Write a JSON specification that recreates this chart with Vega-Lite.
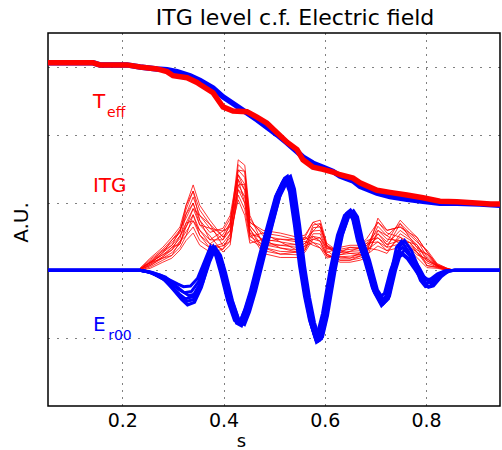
{
"$schema":"https://vega.github.io/schema/vega-lite/v6.json",
"width":452,"height":373,
"autosize":{"type":"none"},
"padding":{"left":48,"top":33,"right":2,"bottom":44},
"background":"white",
"config":{"view":{"stroke":"black","strokeWidth":1.5},"font":"DejaVu Sans"},
"title":{"text":"ITG level c.f. Electric field","anchor":"middle","dx":21,"offset":3,"fontSize":22,"font":"DejaVu Sans","fontWeight":"normal","color":"black"},
"datasets":{
"itg":[
{"g":"a","s":0.235,"v":0.03},{"g":"a","s":0.255,"v":0.18},{"g":"a","s":0.28,"v":0.34},{"g":"a","s":0.298,"v":0.49},{"g":"a","s":0.314,"v":0.64},{"g":"a","s":0.326,"v":0.96},{"g":"a","s":0.34,"v":1.26},{"g":"a","s":0.353,"v":0.96},{"g":"a","s":0.373,"v":0.74},{"g":"a","s":0.399,"v":0.49},{"g":"a","s":0.413,"v":0.65},{"g":"a","s":0.429,"v":1.63},{"g":"a","s":0.442,"v":1.55},{"g":"a","s":0.452,"v":0.81},{"g":"a","s":0.478,"v":0.38},{"g":"a","s":0.512,"v":0.33},{"g":"a","s":0.545,"v":0.30},{"g":"a","s":0.561,"v":0.36},{"g":"a","s":0.577,"v":0.67},{"g":"a","s":0.591,"v":0.69},{"g":"a","s":0.604,"v":0.37},{"g":"a","s":0.63,"v":0.18},{"g":"a","s":0.65,"v":0.18},{"g":"a","s":0.67,"v":0.21},{"g":"a","s":0.683,"v":0.26},{"g":"a","s":0.705,"v":0.77},{"g":"a","s":0.723,"v":0.59},{"g":"a","s":0.749,"v":0.64},{"g":"a","s":0.768,"v":0.52},{"g":"a","s":0.782,"v":0.42},{"g":"a","s":0.802,"v":0.30},{"g":"a","s":0.822,"v":0.10},{"g":"a","s":0.842,"v":0.03},{"g":"a","s":0.857,"v":0},
{"g":"b","s":0.235,"v":0.03},{"g":"b","s":0.255,"v":0.16},{"g":"b","s":0.28,"v":0.31},{"g":"b","s":0.298,"v":0.45},{"g":"b","s":0.314,"v":0.60},{"g":"b","s":0.326,"v":0.77},{"g":"b","s":0.34,"v":0.99},{"g":"b","s":0.353,"v":0.74},{"g":"b","s":0.373,"v":0.56},{"g":"b","s":0.399,"v":0.62},{"g":"b","s":0.413,"v":0.81},{"g":"b","s":0.429,"v":1.48},{"g":"b","s":0.442,"v":1.37},{"g":"b","s":0.452,"v":0.71},{"g":"b","s":0.478,"v":0.59},{"g":"b","s":0.512,"v":0.55},{"g":"b","s":0.545,"v":0.49},{"g":"b","s":0.561,"v":0.52},{"g":"b","s":0.577,"v":0.71},{"g":"b","s":0.591,"v":0.74},{"g":"b","s":0.604,"v":0.40},{"g":"b","s":0.63,"v":0.26},{"g":"b","s":0.65,"v":0.28},{"g":"b","s":0.67,"v":0.29},{"g":"b","s":0.683,"v":0.37},{"g":"b","s":0.705,"v":0.54},{"g":"b","s":0.723,"v":0.42},{"g":"b","s":0.749,"v":0.74},{"g":"b","s":0.768,"v":0.59},{"g":"b","s":0.782,"v":0.49},{"g":"b","s":0.802,"v":0.27},{"g":"b","s":0.822,"v":0.09},{"g":"b","s":0.842,"v":0.03},{"g":"b","s":0.857,"v":0},
{"g":"c","s":0.235,"v":0.02},{"g":"c","s":0.255,"v":0.14},{"g":"c","s":0.28,"v":0.29},{"g":"c","s":0.298,"v":0.41},{"g":"c","s":0.314,"v":0.56},{"g":"c","s":0.326,"v":0.90},{"g":"c","s":0.34,"v":1.17},{"g":"c","s":0.353,"v":0.89},{"g":"c","s":0.373,"v":0.68},{"g":"c","s":0.399,"v":0.36},{"g":"c","s":0.413,"v":0.48},{"g":"c","s":0.429,"v":1.56},{"g":"c","s":0.442,"v":1.46},{"g":"c","s":0.452,"v":0.76},{"g":"c","s":0.478,"v":0.51},{"g":"c","s":0.512,"v":0.46},{"g":"c","s":0.545,"v":0.42},{"g":"c","s":0.561,"v":0.46},{"g":"c","s":0.577,"v":0.50},{"g":"c","s":0.591,"v":0.48},{"g":"c","s":0.604,"v":0.26},{"g":"c","s":0.63,"v":0.34},{"g":"c","s":0.65,"v":0.37},{"g":"c","s":0.67,"v":0.37},{"g":"c","s":0.683,"v":0.47},{"g":"c","s":0.705,"v":0.71},{"g":"c","s":0.723,"v":0.55},{"g":"c","s":0.749,"v":0.49},{"g":"c","s":0.768,"v":0.41},{"g":"c","s":0.782,"v":0.30},{"g":"c","s":0.802,"v":0.24},{"g":"c","s":0.822,"v":0.08},{"g":"c","s":0.842,"v":0.02},{"g":"c","s":0.857,"v":0},
{"g":"d","s":0.235,"v":0.02},{"g":"d","s":0.255,"v":0.12},{"g":"d","s":0.28,"v":0.26},{"g":"d","s":0.298,"v":0.37},{"g":"d","s":0.314,"v":0.51},{"g":"d","s":0.326,"v":0.64},{"g":"d","s":0.34,"v":0.82},{"g":"d","s":0.353,"v":0.59},{"g":"d","s":0.373,"v":0.45},{"g":"d","s":0.399,"v":0.58},{"g":"d","s":0.413,"v":0.76},{"g":"d","s":0.429,"v":1.34},{"g":"d","s":0.442,"v":1.18},{"g":"d","s":0.452,"v":0.61},{"g":"d","s":0.478,"v":0.29},{"g":"d","s":0.512,"v":0.24},{"g":"d","s":0.545,"v":0.23},{"g":"d","s":0.561,"v":0.30},{"g":"d","s":0.577,"v":0.63},{"g":"d","s":0.591,"v":0.64},{"g":"d","s":0.604,"v":0.35},{"g":"d","s":0.63,"v":0.29},{"g":"d","s":0.65,"v":0.31},{"g":"d","s":0.67,"v":0.32},{"g":"d","s":0.683,"v":0.40},{"g":"d","s":0.705,"v":0.42},{"g":"d","s":0.723,"v":0.34},{"g":"d","s":0.749,"v":0.69},{"g":"d","s":0.768,"v":0.55},{"g":"d","s":0.782,"v":0.45},{"g":"d","s":0.802,"v":0.20},{"g":"d","s":0.822,"v":0.07},{"g":"d","s":0.842,"v":0.02},{"g":"d","s":0.857,"v":0},
{"g":"e","s":0.235,"v":0.02},{"g":"e","s":0.255,"v":0.11},{"g":"e","s":0.28,"v":0.23},{"g":"e","s":0.298,"v":0.34},{"g":"e","s":0.314,"v":0.47},{"g":"e","s":0.326,"v":0.83},{"g":"e","s":0.34,"v":1.08},{"g":"e","s":0.353,"v":0.81},{"g":"e","s":0.373,"v":0.62},{"g":"e","s":0.399,"v":0.45},{"g":"e","s":0.413,"v":0.59},{"g":"e","s":0.429,"v":1.19},{"g":"e","s":0.442,"v":0.99},{"g":"e","s":0.452,"v":0.50},{"g":"e","s":0.478,"v":0.55},{"g":"e","s":0.512,"v":0.51},{"g":"e","s":0.545,"v":0.45},{"g":"e","s":0.561,"v":0.49},{"g":"e","s":0.577,"v":0.41},{"g":"e","s":0.591,"v":0.38},{"g":"e","s":0.604,"v":0.21},{"g":"e","s":0.63,"v":0.20},{"g":"e","s":0.65,"v":0.21},{"g":"e","s":0.67,"v":0.23},{"g":"e","s":0.683,"v":0.30},{"g":"e","s":0.705,"v":0.65},{"g":"e","s":0.723,"v":0.51},{"g":"e","s":0.749,"v":0.39},{"g":"e","s":0.768,"v":0.34},{"g":"e","s":0.782,"v":0.23},{"g":"e","s":0.802,"v":0.17},{"g":"e","s":0.822,"v":0.07},{"g":"e","s":0.842,"v":0.02},{"g":"e","s":0.857,"v":0},
{"g":"f","s":0.235,"v":0.01},{"g":"f","s":0.255,"v":0.09},{"g":"f","s":0.28,"v":0.20},{"g":"f","s":0.298,"v":0.30},{"g":"f","s":0.314,"v":0.43},{"g":"f","s":0.326,"v":0.57},{"g":"f","s":0.34,"v":0.73},{"g":"f","s":0.353,"v":0.52},{"g":"f","s":0.373,"v":0.39},{"g":"f","s":0.399,"v":0.53},{"g":"f","s":0.413,"v":0.70},{"g":"f","s":0.429,"v":1.41},{"g":"f","s":0.442,"v":1.27},{"g":"f","s":0.452,"v":0.66},{"g":"f","s":0.478,"v":0.42},{"g":"f","s":0.512,"v":0.37},{"g":"f","s":0.545,"v":0.34},{"g":"f","s":0.561,"v":0.40},{"g":"f","s":0.577,"v":0.58},{"g":"f","s":0.591,"v":0.59},{"g":"f","s":0.604,"v":0.32},{"g":"f","s":0.63,"v":0.31},{"g":"f","s":0.65,"v":0.34},{"g":"f","s":0.67,"v":0.34},{"g":"f","s":0.683,"v":0.44},{"g":"f","s":0.705,"v":0.48},{"g":"f","s":0.723,"v":0.38},{"g":"f","s":0.749,"v":0.59},{"g":"f","s":0.768,"v":0.48},{"g":"f","s":0.782,"v":0.38},{"g":"f","s":0.802,"v":0.14},{"g":"f","s":0.822,"v":0.06},{"g":"f","s":0.842,"v":0.01},{"g":"f","s":0.857,"v":0},
{"g":"g","s":0.235,"v":0.01},{"g":"g","s":0.255,"v":0.07},{"g":"g","s":0.28,"v":0.18},{"g":"g","s":0.298,"v":0.26},{"g":"g","s":0.314,"v":0.39},{"g":"g","s":0.326,"v":0.70},{"g":"g","s":0.34,"v":0.91},{"g":"g","s":0.353,"v":0.67},{"g":"g","s":0.373,"v":0.51},{"g":"g","s":0.399,"v":0.27},{"g":"g","s":0.413,"v":0.37},{"g":"g","s":0.429,"v":1.26},{"g":"g","s":0.442,"v":1.09},{"g":"g","s":0.452,"v":0.55},{"g":"g","s":0.478,"v":0.25},{"g":"g","s":0.512,"v":0.19},{"g":"g","s":0.545,"v":0.19},{"g":"g","s":0.561,"v":0.27},{"g":"g","s":0.577,"v":0.46},{"g":"g","s":0.591,"v":0.43},{"g":"g","s":0.604,"v":0.24},{"g":"g","s":0.63,"v":0.12},{"g":"g","s":0.65,"v":0.12},{"g":"g","s":0.67,"v":0.15},{"g":"g","s":0.683,"v":0.19},{"g":"g","s":0.705,"v":0.59},{"g":"g","s":0.723,"v":0.46},{"g":"g","s":0.749,"v":0.44},{"g":"g","s":0.768,"v":0.37},{"g":"g","s":0.782,"v":0.27},{"g":"g","s":0.802,"v":0.11},{"g":"g","s":0.822,"v":0.05},{"g":"g","s":0.842,"v":0.01},{"g":"g","s":0.857,"v":0},
{"g":"h","s":0.235,"v":0},{"g":"h","s":0.255,"v":0.05},{"g":"h","s":0.28,"v":0.15},{"g":"h","s":0.298,"v":0.22},{"g":"h","s":0.314,"v":0.34},{"g":"h","s":0.326,"v":0.51},{"g":"h","s":0.34,"v":0.64},{"g":"h","s":0.353,"v":0.44},{"g":"h","s":0.373,"v":0.33},{"g":"h","s":0.399,"v":0.40},{"g":"h","s":0.413,"v":0.54},{"g":"h","s":0.429,"v":1.04},{"g":"h","s":0.442,"v":0.81},{"g":"h","s":0.452,"v":0.40},{"g":"h","s":0.478,"v":0.46},{"g":"h","s":0.512,"v":0.42},{"g":"h","s":0.545,"v":0.38},{"g":"h","s":0.561,"v":0.43},{"g":"h","s":0.577,"v":0.37},{"g":"h","s":0.591,"v":0.33},{"g":"h","s":0.604,"v":0.18},{"g":"h","s":0.63,"v":0.23},{"g":"h","s":0.65,"v":0.25},{"g":"h","s":0.67,"v":0.26},{"g":"h","s":0.683,"v":0.33},{"g":"h","s":0.705,"v":0.30},{"g":"h","s":0.723,"v":0.25},{"g":"h","s":0.749,"v":0.54},{"g":"h","s":0.768,"v":0.45},{"g":"h","s":0.782,"v":0.34},{"g":"h","s":0.802,"v":0.07},{"g":"h","s":0.822,"v":0.04},{"g":"h","s":0.842,"v":0},{"g":"h","s":0.857,"v":0},
{"g":"i","s":0.235,"v":0},{"g":"i","s":0.255,"v":0.03},{"g":"i","s":0.28,"v":0.12},{"g":"i","s":0.298,"v":0.18},{"g":"i","s":0.314,"v":0.30},{"g":"i","s":0.326,"v":0.44},{"g":"i","s":0.34,"v":0.55},{"g":"i","s":0.353,"v":0.37},{"g":"i","s":0.373,"v":0.27},{"g":"i","s":0.399,"v":0.31},{"g":"i","s":0.413,"v":0.43},{"g":"i","s":0.429,"v":1.11},{"g":"i","s":0.442,"v":0.90},{"g":"i","s":0.452,"v":0.45},{"g":"i","s":0.478,"v":0.34},{"g":"i","s":0.512,"v":0.28},{"g":"i","s":0.545,"v":0.27},{"g":"i","s":0.561,"v":0.33},{"g":"i","s":0.577,"v":0.54},{"g":"i","s":0.591,"v":0.54},{"g":"i","s":0.604,"v":0.29},{"g":"i","s":0.63,"v":0.15},{"g":"i","s":0.65,"v":0.15},{"g":"i","s":0.67,"v":0.18},{"g":"i","s":0.683,"v":0.23},{"g":"i","s":0.705,"v":0.36},{"g":"i","s":0.723,"v":0.29},{"g":"i","s":0.749,"v":0.34},{"g":"i","s":0.768,"v":0.30},{"g":"i","s":0.782,"v":0.19},{"g":"i","s":0.802,"v":0.04},{"g":"i","s":0.822,"v":0.03},{"g":"i","s":0.842,"v":0},{"g":"i","s":0.857,"v":0},
{"g":"j","s":0.235,"v":0.02},{"g":"j","s":0.255,"v":0.12},{"g":"j","s":0.28,"v":0.29},{"g":"j","s":0.298,"v":0.37},{"g":"j","s":0.314,"v":0.60},{"g":"j","s":0.326,"v":0.83},{"g":"j","s":0.34,"v":0.99},{"g":"j","s":0.353,"v":0.67},{"g":"j","s":0.373,"v":0.62},{"g":"j","s":0.399,"v":0.58},{"g":"j","s":0.413,"v":0.65},{"g":"j","s":0.429,"v":1.48},{"g":"j","s":0.442,"v":1.46},{"g":"j","s":0.452,"v":0.66},{"g":"j","s":0.478,"v":0.42},{"g":"j","s":0.512,"v":0.46},{"g":"j","s":0.545,"v":0.45},{"g":"j","s":0.561,"v":0.46},{"g":"j","s":0.577,"v":0.58},{"g":"j","s":0.591,"v":0.69},{"g":"j","s":0.604,"v":0.35},{"g":"j","s":0.63,"v":0.23},{"g":"j","s":0.65,"v":0.28},{"g":"j","s":0.67,"v":0.34},{"g":"j","s":0.683,"v":0.40},{"g":"j","s":0.705,"v":0.59},{"g":"j","s":0.723,"v":0.51},{"g":"j","s":0.749,"v":0.69},{"g":"j","s":0.768,"v":0.48},{"g":"j","s":0.782,"v":0.34},{"g":"j","s":0.802,"v":0.24},{"g":"j","s":0.822,"v":0.07},{"g":"j","s":0.842,"v":0.02},{"g":"j","s":0.857,"v":0},
{"g":"k","s":0.235,"v":0.01},{"g":"k","s":0.255,"v":0.07},{"g":"k","s":0.28,"v":0.20},{"g":"k","s":0.298,"v":0.34},{"g":"k","s":0.314,"v":0.39},{"g":"k","s":0.326,"v":0.64},{"g":"k","s":0.34,"v":0.91},{"g":"k","s":0.353,"v":0.81},{"g":"k","s":0.373,"v":0.68},{"g":"k","s":0.399,"v":0.49},{"g":"k","s":0.413,"v":0.59},{"g":"k","s":0.429,"v":1.26},{"g":"k","s":0.442,"v":1.27},{"g":"k","s":0.452,"v":0.71},{"g":"k","s":0.478,"v":0.55},{"g":"k","s":0.512,"v":0.42},{"g":"k","s":0.545,"v":0.30},{"g":"k","s":0.561,"v":0.40},{"g":"k","s":0.577,"v":0.46},{"g":"k","s":0.591,"v":0.48},{"g":"k","s":0.604,"v":0.32},{"g":"k","s":0.63,"v":0.29},{"g":"k","s":0.65,"v":0.25},{"g":"k","s":0.67,"v":0.23},{"g":"k","s":0.683,"v":0.26},{"g":"k","s":0.705,"v":0.54},{"g":"k","s":0.723,"v":0.38},{"g":"k","s":0.749,"v":0.44},{"g":"k","s":0.768,"v":0.41},{"g":"k","s":0.782,"v":0.38},{"g":"k","s":0.802,"v":0.17},{"g":"k","s":0.822,"v":0.06},{"g":"k","s":0.842,"v":0.01},{"g":"k","s":0.857,"v":0},
{"g":"l","s":0.235,"v":0.02},{"g":"l","s":0.255,"v":0.12},{"g":"l","s":0.28,"v":0.23},{"g":"l","s":0.298,"v":0.30},{"g":"l","s":0.314,"v":0.51},{"g":"l","s":0.326,"v":0.70},{"g":"l","s":0.34,"v":0.73},{"g":"l","s":0.353,"v":0.59},{"g":"l","s":0.373,"v":0.39},{"g":"l","s":0.399,"v":0.31},{"g":"l","s":0.413,"v":0.54},{"g":"l","s":0.429,"v":1.34},{"g":"l","s":0.442,"v":0.99},{"g":"l","s":0.452,"v":0.55},{"g":"l","s":0.478,"v":0.46},{"g":"l","s":0.512,"v":0.33},{"g":"l","s":0.545,"v":0.27},{"g":"l","s":0.561,"v":0.30},{"g":"l","s":0.577,"v":0.50},{"g":"l","s":0.591,"v":0.43},{"g":"l","s":0.604,"v":0.21},{"g":"l","s":0.63,"v":0.20},{"g":"l","s":0.65,"v":0.18},{"g":"l","s":0.67,"v":0.26},{"g":"l","s":0.683,"v":0.37},{"g":"l","s":0.705,"v":0.48},{"g":"l","s":0.723,"v":0.34},{"g":"l","s":0.749,"v":0.39},{"g":"l","s":0.768,"v":0.41},{"g":"l","s":0.782,"v":0.27},{"g":"l","s":0.802,"v":0.14},{"g":"l","s":0.822,"v":0.07},{"g":"l","s":0.842,"v":0.02},{"g":"l","s":0.857,"v":0},
{"g":"m","s":0.235,"v":0.01},{"g":"m","s":0.255,"v":0.09},{"g":"m","s":0.28,"v":0.26},{"g":"m","s":0.298,"v":0.45},{"g":"m","s":0.314,"v":0.56},{"g":"m","s":0.326,"v":0.96},{"g":"m","s":0.34,"v":1.17},{"g":"m","s":0.353,"v":0.74},{"g":"m","s":0.373,"v":0.45},{"g":"m","s":0.399,"v":0.45},{"g":"m","s":0.413,"v":0.70},{"g":"m","s":0.429,"v":1.41},{"g":"m","s":0.442,"v":1.18},{"g":"m","s":0.452,"v":0.50},{"g":"m","s":0.478,"v":0.38},{"g":"m","s":0.512,"v":0.37},{"g":"m","s":0.545,"v":0.38},{"g":"m","s":0.561,"v":0.49},{"g":"m","s":0.577,"v":0.71},{"g":"m","s":0.591,"v":0.64},{"g":"m","s":0.604,"v":0.37},{"g":"m","s":0.63,"v":0.26},{"g":"m","s":0.65,"v":0.34},{"g":"m","s":0.67,"v":0.32},{"g":"m","s":0.683,"v":0.33},{"g":"m","s":0.705,"v":0.71},{"g":"m","s":0.723,"v":0.59},{"g":"m","s":0.749,"v":0.64},{"g":"m","s":0.768,"v":0.55},{"g":"m","s":0.782,"v":0.49},{"g":"m","s":0.802,"v":0.27},{"g":"m","s":0.822,"v":0.08},{"g":"m","s":0.842,"v":0.01},{"g":"m","s":0.857,"v":0},
{"g":"n","s":0.235,"v":0.02},{"g":"n","s":0.255,"v":0.11},{"g":"n","s":0.28,"v":0.18},{"g":"n","s":0.298,"v":0.22},{"g":"n","s":0.314,"v":0.43},{"g":"n","s":0.326,"v":0.51},{"g":"n","s":0.34,"v":0.82},{"g":"n","s":0.353,"v":0.52},{"g":"n","s":0.373,"v":0.33},{"g":"n","s":0.399,"v":0.36},{"g":"n","s":0.413,"v":0.43},{"g":"n","s":0.429,"v":1.19},{"g":"n","s":0.442,"v":1.09},{"g":"n","s":0.452,"v":0.61},{"g":"n","s":0.478,"v":0.34},{"g":"n","s":0.512,"v":0.24},{"g":"n","s":0.545,"v":0.27},{"g":"n","s":0.561,"v":0.36},{"g":"n","s":0.577,"v":0.41},{"g":"n","s":0.591,"v":0.33},{"g":"n","s":0.604,"v":0.24},{"g":"n","s":0.63,"v":0.15},{"g":"n","s":0.65,"v":0.15},{"g":"n","s":0.67,"v":0.21},{"g":"n","s":0.683,"v":0.30},{"g":"n","s":0.705,"v":0.42},{"g":"n","s":0.723,"v":0.29},{"g":"n","s":0.749,"v":0.49},{"g":"n","s":0.768,"v":0.34},{"g":"n","s":0.782,"v":0.27},{"g":"n","s":0.802,"v":0.07},{"g":"n","s":0.822,"v":0.05},{"g":"n","s":0.842,"v":0},{"g":"n","s":0.857,"v":0}
],
"er":[
{"g":"j0","s":0.0532,"v":0},{"g":"j0","s":0.235,"v":0},{"g":"j0","s":0.2497,"v":-0.02},{"g":"j0","s":0.2754,"v":-0.07},{"g":"j0","s":0.2932,"v":-0.14},{"g":"j0","s":0.309,"v":-0.20},{"g":"j0","s":0.3208,"v":-0.24},{"g":"j0","s":0.3347,"v":-0.23},{"g":"j0","s":0.3485,"v":-0.12},{"g":"j0","s":0.3623,"v":0.13},{"g":"j0","s":0.3742,"v":0.35},{"g":"j0","s":0.3841,"v":0.23},{"g":"j0","s":0.3939,"v":-0.03},{"g":"j0","s":0.4078,"v":-0.44},{"g":"j0","s":0.4216,"v":-0.74},{"g":"j0","s":0.4315,"v":-0.78},{"g":"j0","s":0.4414,"v":-0.59},{"g":"j0","s":0.4532,"v":-0.30},{"g":"j0","s":0.471,"v":0.22},{"g":"j0","s":0.4868,"v":0.66},{"g":"j0","s":0.5026,"v":1.09},{"g":"j0","s":0.5164,"v":1.30},{"g":"j0","s":0.5223,"v":1.33},{"g":"j0","s":0.5302,"v":1.16},{"g":"j0","s":0.5401,"v":0.66},{"g":"j0","s":0.55,"v":0.07},{"g":"j0","s":0.5599,"v":-0.38},{"g":"j0","s":0.5697,"v":-0.73},{"g":"j0","s":0.5796,"v":-0.96},{"g":"j0","s":0.5856,"v":-0.93},{"g":"j0","s":0.5954,"v":-0.64},{"g":"j0","s":0.6112,"v":0.03},{"g":"j0","s":0.6251,"v":0.52},{"g":"j0","s":0.6389,"v":0.81},{"g":"j0","s":0.6468,"v":0.86},{"g":"j0","s":0.6547,"v":0.77},{"g":"j0","s":0.6646,"v":0.44},{"g":"j0","s":0.6784,"v":0.15},{"g":"j0","s":0.6942,"v":-0.26},{"g":"j0","s":0.708,"v":-0.40},{"g":"j0","s":0.7179,"v":-0.34},{"g":"j0","s":0.7298,"v":0},{"g":"j0","s":0.7396,"v":0.20},{"g":"j0","s":0.7495,"v":0.26},{"g":"j0","s":0.7634,"v":0.17},{"g":"j0","s":0.7772,"v":0.02},{"g":"j0","s":0.7871,"v":-0.09},{"g":"j0","s":0.7969,"v":-0.14},{"g":"j0","s":0.8068,"v":-0.14},{"g":"j0","s":0.8226,"v":-0.05},{"g":"j0","s":0.8365,"v":-0.01},{"g":"j0","s":0.8573,"v":0},{"g":"j0","s":0.9462,"v":0},
{"g":"j1","s":0.0532,"v":0},{"g":"j1","s":0.235,"v":0},{"g":"j1","s":0.2517,"v":-0.02},{"g":"j1","s":0.2774,"v":-0.09},{"g":"j1","s":0.2952,"v":-0.19},{"g":"j1","s":0.311,"v":-0.28},{"g":"j1","s":0.3228,"v":-0.33},{"g":"j1","s":0.3367,"v":-0.31},{"g":"j1","s":0.3505,"v":-0.17},{"g":"j1","s":0.3643,"v":0.11},{"g":"j1","s":0.3762,"v":0.31},{"g":"j1","s":0.3861,"v":0.21},{"g":"j1","s":0.3959,"v":-0.03},{"g":"j1","s":0.4098,"v":-0.42},{"g":"j1","s":0.4236,"v":-0.70},{"g":"j1","s":0.4335,"v":-0.74},{"g":"j1","s":0.4434,"v":-0.56},{"g":"j1","s":0.4552,"v":-0.29},{"g":"j1","s":0.473,"v":0.22},{"g":"j1","s":0.4888,"v":0.67},{"g":"j1","s":0.5046,"v":1.11},{"g":"j1","s":0.5184,"v":1.33},{"g":"j1","s":0.5243,"v":1.36},{"g":"j1","s":0.5322,"v":1.18},{"g":"j1","s":0.5421,"v":0.67},{"g":"j1","s":0.552,"v":0.07},{"g":"j1","s":0.5619,"v":-0.40},{"g":"j1","s":0.5717,"v":-0.77},{"g":"j1","s":0.5816,"v":-1.01},{"g":"j1","s":0.5876,"v":-0.98},{"g":"j1","s":0.5974,"v":-0.67},{"g":"j1","s":0.6132,"v":0.03},{"g":"j1","s":0.6271,"v":0.50},{"g":"j1","s":0.6409,"v":0.78},{"g":"j1","s":0.6488,"v":0.83},{"g":"j1","s":0.6567,"v":0.74},{"g":"j1","s":0.6666,"v":0.42},{"g":"j1","s":0.6804,"v":0.14},{"g":"j1","s":0.6962,"v":-0.30},{"g":"j1","s":0.71,"v":-0.47},{"g":"j1","s":0.7199,"v":-0.40},{"g":"j1","s":0.7318,"v":0},{"g":"j1","s":0.7416,"v":0.34},{"g":"j1","s":0.7515,"v":0.43},{"g":"j1","s":0.7654,"v":0.28},{"g":"j1","s":0.7792,"v":0.04},{"g":"j1","s":0.7891,"v":-0.15},{"g":"j1","s":0.7989,"v":-0.24},{"g":"j1","s":0.8088,"v":-0.23},{"g":"j1","s":0.8246,"v":-0.09},{"g":"j1","s":0.8385,"v":-0.01},{"g":"j1","s":0.8573,"v":0},{"g":"j1","s":0.9462,"v":0},
{"g":"j2","s":0.0532,"v":0},{"g":"j2","s":0.235,"v":0},{"g":"j2","s":0.2537,"v":-0.03},{"g":"j2","s":0.2794,"v":-0.11},{"g":"j2","s":0.2972,"v":-0.24},{"g":"j2","s":0.313,"v":-0.35},{"g":"j2","s":0.3248,"v":-0.42},{"g":"j2","s":0.3387,"v":-0.39},{"g":"j2","s":0.3525,"v":-0.21},{"g":"j2","s":0.3663,"v":0.12},{"g":"j2","s":0.3782,"v":0.33},{"g":"j2","s":0.3881,"v":0.22},{"g":"j2","s":0.3979,"v":-0.03},{"g":"j2","s":0.4118,"v":-0.46},{"g":"j2","s":0.4256,"v":-0.78},{"g":"j2","s":0.4355,"v":-0.82},{"g":"j2","s":0.4454,"v":-0.62},{"g":"j2","s":0.4572,"v":-0.32},{"g":"j2","s":0.475,"v":0.22},{"g":"j2","s":0.4908,"v":0.68},{"g":"j2","s":0.5066,"v":1.13},{"g":"j2","s":0.5204,"v":1.36},{"g":"j2","s":0.5263,"v":1.39},{"g":"j2","s":0.5342,"v":1.20},{"g":"j2","s":0.5441,"v":0.68},{"g":"j2","s":0.554,"v":0.07},{"g":"j2","s":0.5639,"v":-0.42},{"g":"j2","s":0.5737,"v":-0.81},{"g":"j2","s":0.5836,"v":-1.06},{"g":"j2","s":0.5896,"v":-1.03},{"g":"j2","s":0.5994,"v":-0.70},{"g":"j2","s":0.6152,"v":0.03},{"g":"j2","s":0.6291,"v":0.54},{"g":"j2","s":0.6429,"v":0.84},{"g":"j2","s":0.6508,"v":0.89},{"g":"j2","s":0.6587,"v":0.80},{"g":"j2","s":0.6686,"v":0.46},{"g":"j2","s":0.6824,"v":0.16},{"g":"j2","s":0.6982,"v":-0.33},{"g":"j2","s":0.712,"v":-0.52},{"g":"j2","s":0.7219,"v":-0.44},{"g":"j2","s":0.7338,"v":0},{"g":"j2","s":0.7436,"v":0.27},{"g":"j2","s":0.7535,"v":0.34},{"g":"j2","s":0.7674,"v":0.22},{"g":"j2","s":0.7812,"v":0.03},{"g":"j2","s":0.7911,"v":-0.12},{"g":"j2","s":0.8009,"v":-0.19},{"g":"j2","s":0.8108,"v":-0.18},{"g":"j2","s":0.8266,"v":-0.07},{"g":"j2","s":0.8405,"v":-0.01},{"g":"j2","s":0.8573,"v":0},{"g":"j2","s":0.9462,"v":0},
{"g":"j3","s":0.0532,"v":0},{"g":"j3","s":0.235,"v":0},{"g":"j3","s":0.2557,"v":-0.03},{"g":"j3","s":0.2814,"v":-0.13},{"g":"j3","s":0.2992,"v":-0.26},{"g":"j3","s":0.315,"v":-0.39},{"g":"j3","s":0.3268,"v":-0.46},{"g":"j3","s":0.3407,"v":-0.43},{"g":"j3","s":0.3545,"v":-0.23},{"g":"j3","s":0.3683,"v":0.13},{"g":"j3","s":0.3802,"v":0.35},{"g":"j3","s":0.3901,"v":0.23},{"g":"j3","s":0.3999,"v":-0.03},{"g":"j3","s":0.4138,"v":-0.44},{"g":"j3","s":0.4276,"v":-0.74},{"g":"j3","s":0.4375,"v":-0.78},{"g":"j3","s":0.4474,"v":-0.59},{"g":"j3","s":0.4592,"v":-0.30},{"g":"j3","s":0.477,"v":0.22},{"g":"j3","s":0.4928,"v":0.67},{"g":"j3","s":0.5086,"v":1.11},{"g":"j3","s":0.5224,"v":1.33},{"g":"j3","s":0.5283,"v":1.36},{"g":"j3","s":0.5362,"v":1.18},{"g":"j3","s":0.5461,"v":0.67},{"g":"j3","s":0.556,"v":0.07},{"g":"j3","s":0.5659,"v":-0.39},{"g":"j3","s":0.5757,"v":-0.75},{"g":"j3","s":0.5856,"v":-0.98},{"g":"j3","s":0.5916,"v":-0.95},{"g":"j3","s":0.6014,"v":-0.65},{"g":"j3","s":0.6172,"v":0.03},{"g":"j3","s":0.6311,"v":0.52},{"g":"j3","s":0.6449,"v":0.81},{"g":"j3","s":0.6528,"v":0.86},{"g":"j3","s":0.6607,"v":0.77},{"g":"j3","s":0.6706,"v":0.44},{"g":"j3","s":0.6844,"v":0.15},{"g":"j3","s":0.7002,"v":-0.28},{"g":"j3","s":0.714,"v":-0.43},{"g":"j3","s":0.7239,"v":-0.37},{"g":"j3","s":0.7358,"v":0},{"g":"j3","s":0.7456,"v":0.19},{"g":"j3","s":0.7555,"v":0.24},{"g":"j3","s":0.7694,"v":0.15},{"g":"j3","s":0.7832,"v":0.02},{"g":"j3","s":0.7931,"v":-0.08},{"g":"j3","s":0.8029,"v":-0.13},{"g":"j3","s":0.8128,"v":-0.13},{"g":"j3","s":0.8286,"v":-0.05},{"g":"j3","s":0.8425,"v":-0.01},{"g":"j3","s":0.8573,"v":0},{"g":"j3","s":0.9462,"v":0},
{"g":"j4","s":0.0532,"v":0},{"g":"j4","s":0.235,"v":0},{"g":"j4","s":0.2577,"v":-0.03},{"g":"j4","s":0.2834,"v":-0.14},{"g":"j4","s":0.3012,"v":-0.29},{"g":"j4","s":0.317,"v":-0.43},{"g":"j4","s":0.3288,"v":-0.51},{"g":"j4","s":0.3427,"v":-0.47},{"g":"j4","s":0.3565,"v":-0.25},{"g":"j4","s":0.3703,"v":0.11},{"g":"j4","s":0.3822,"v":0.31},{"g":"j4","s":0.3921,"v":0.21},{"g":"j4","s":0.4019,"v":-0.03},{"g":"j4","s":0.4158,"v":-0.43},{"g":"j4","s":0.4296,"v":-0.72},{"g":"j4","s":0.4395,"v":-0.76},{"g":"j4","s":0.4494,"v":-0.57},{"g":"j4","s":0.4612,"v":-0.29},{"g":"j4","s":0.479,"v":0.21},{"g":"j4","s":0.4948,"v":0.65},{"g":"j4","s":0.5106,"v":1.08},{"g":"j4","s":0.5244,"v":1.29},{"g":"j4","s":0.5303,"v":1.32},{"g":"j4","s":0.5382,"v":1.14},{"g":"j4","s":0.5481,"v":0.65},{"g":"j4","s":0.558,"v":0.07},{"g":"j4","s":0.5679,"v":-0.41},{"g":"j4","s":0.5777,"v":-0.79},{"g":"j4","s":0.5876,"v":-1.04},{"g":"j4","s":0.5936,"v":-1.01},{"g":"j4","s":0.6034,"v":-0.69},{"g":"j4","s":0.6192,"v":0.03},{"g":"j4","s":0.6331,"v":0.50},{"g":"j4","s":0.6469,"v":0.79},{"g":"j4","s":0.6548,"v":0.83},{"g":"j4","s":0.6627,"v":0.75},{"g":"j4","s":0.6726,"v":0.43},{"g":"j4","s":0.6864,"v":0.15},{"g":"j4","s":0.7022,"v":-0.32},{"g":"j4","s":0.716,"v":-0.49},{"g":"j4","s":0.7259,"v":-0.42},{"g":"j4","s":0.7378,"v":0},{"g":"j4","s":0.7476,"v":0.35},{"g":"j4","s":0.7575,"v":0.44},{"g":"j4","s":0.7714,"v":0.29},{"g":"j4","s":0.7852,"v":0.04},{"g":"j4","s":0.7951,"v":-0.16},{"g":"j4","s":0.8049,"v":-0.25},{"g":"j4","s":0.8148,"v":-0.23},{"g":"j4","s":0.8306,"v":-0.09},{"g":"j4","s":0.8445,"v":-0.01},{"g":"j4","s":0.8573,"v":0},{"g":"j4","s":0.9462,"v":0},
{"g":"j5","s":0.0532,"v":0},{"g":"j5","s":0.235,"v":0},{"g":"j5","s":0.2597,"v":-0.03},{"g":"j5","s":0.2854,"v":-0.10},{"g":"j5","s":0.3032,"v":-0.21},{"g":"j5","s":0.319,"v":-0.31},{"g":"j5","s":0.3308,"v":-0.37},{"g":"j5","s":0.3447,"v":-0.35},{"g":"j5","s":0.3585,"v":-0.19},{"g":"j5","s":0.3723,"v":0.12},{"g":"j5","s":0.3842,"v":0.33},{"g":"j5","s":0.3941,"v":0.22},{"g":"j5","s":0.4039,"v":-0.03},{"g":"j5","s":0.4178,"v":-0.45},{"g":"j5","s":0.4316,"v":-0.76},{"g":"j5","s":0.4415,"v":-0.80},{"g":"j5","s":0.4514,"v":-0.61},{"g":"j5","s":0.4632,"v":-0.31},{"g":"j5","s":0.481,"v":0.22},{"g":"j5","s":0.4968,"v":0.68},{"g":"j5","s":0.5126,"v":1.13},{"g":"j5","s":0.5264,"v":1.36},{"g":"j5","s":0.5323,"v":1.39},{"g":"j5","s":0.5402,"v":1.20},{"g":"j5","s":0.5501,"v":0.68},{"g":"j5","s":0.56,"v":0.07},{"g":"j5","s":0.5699,"v":-0.40},{"g":"j5","s":0.5797,"v":-0.77},{"g":"j5","s":0.5896,"v":-1.01},{"g":"j5","s":0.5956,"v":-0.98},{"g":"j5","s":0.6054,"v":-0.67},{"g":"j5","s":0.6212,"v":0.03},{"g":"j5","s":0.6351,"v":0.53},{"g":"j5","s":0.6489,"v":0.83},{"g":"j5","s":0.6568,"v":0.88},{"g":"j5","s":0.6647,"v":0.79},{"g":"j5","s":0.6746,"v":0.45},{"g":"j5","s":0.6884,"v":0.15},{"g":"j5","s":0.7042,"v":-0.29},{"g":"j5","s":0.718,"v":-0.45},{"g":"j5","s":0.7279,"v":-0.38},{"g":"j5","s":0.7398,"v":0},{"g":"j5","s":0.7496,"v":0.24},{"g":"j5","s":0.7595,"v":0.31},{"g":"j5","s":0.7734,"v":0.20},{"g":"j5","s":0.7872,"v":0.03},{"g":"j5","s":0.7971,"v":-0.11},{"g":"j5","s":0.8069,"v":-0.17},{"g":"j5","s":0.8168,"v":-0.16},{"g":"j5","s":0.8326,"v":-0.06},{"g":"j5","s":0.8465,"v":-0.01},{"g":"j5","s":0.8573,"v":0},{"g":"j5","s":0.9462,"v":0}
],
"tb":[
{"s":0.0532,"v":3.06},{"s":0.1422,"v":3.06},{"s":0.1559,"v":3.03},{"s":0.2093,"v":3.03},{"s":0.235,"v":3.00},{"s":0.2686,"v":2.97},{"s":0.2883,"v":2.96},{"s":0.3081,"v":2.93},{"s":0.3338,"v":2.87},{"s":0.3535,"v":2.80},{"s":0.3792,"v":2.69},{"s":0.3989,"v":2.56},{"s":0.4187,"v":2.46},{"s":0.4464,"v":2.32},{"s":0.4661,"v":2.22},{"s":0.4859,"v":2.11},{"s":0.5056,"v":2.00},{"s":0.5254,"v":1.88},{"s":0.5452,"v":1.75},{"s":0.557,"v":1.67},{"s":0.5767,"v":1.58},{"s":0.5965,"v":1.52},{"s":0.6162,"v":1.46},{"s":0.6301,"v":1.39},{"s":0.6558,"v":1.32},{"s":0.6696,"v":1.24},{"s":0.7032,"v":1.14},{"s":0.7288,"v":1.09},{"s":0.7624,"v":1.05},{"s":0.794,"v":1.02},{"s":0.8276,"v":0.99},{"s":0.8612,"v":0.99},{"s":0.9066,"v":0.98},{"s":0.9462,"v":0.96}
],
"tr":[
{"s":0.0532,"v":3.06},{"s":0.1422,"v":3.06},{"s":0.1559,"v":3.03},{"s":0.2093,"v":3.03},{"s":0.235,"v":3.00},{"s":0.2686,"v":2.97},{"s":0.2883,"v":2.93},{"s":0.3002,"v":2.87},{"s":0.3279,"v":2.84},{"s":0.3476,"v":2.77},{"s":0.3535,"v":2.74},{"s":0.3792,"v":2.62},{"s":0.3989,"v":2.41},{"s":0.4187,"v":2.35},{"s":0.4464,"v":2.34},{"s":0.4661,"v":2.26},{"s":0.4859,"v":2.17},{"s":0.5056,"v":2.03},{"s":0.5254,"v":1.89},{"s":0.5452,"v":1.78},{"s":0.557,"v":1.63},{"s":0.5767,"v":1.52},{"s":0.5965,"v":1.49},{"s":0.6162,"v":1.45},{"s":0.6301,"v":1.41},{"s":0.6558,"v":1.36},{"s":0.6696,"v":1.29},{"s":0.7032,"v":1.18},{"s":0.7288,"v":1.15},{"s":0.7624,"v":1.11},{"s":0.794,"v":1.07},{"s":0.8276,"v":1.02},{"s":0.8612,"v":1.01},{"s":0.9066,"v":0.99},{"s":0.9264,"v":0.98},{"s":0.9462,"v":0.98}
],
"lab":[
{"s":0.142,"v":2.40,"t":"T","k":"rb"},
{"s":0.170,"v":2.26,"t":"eff","k":"rs"},
{"s":0.142,"v":1.15,"t":"ITG","k":"rb"},
{"s":0.142,"v":-0.89,"t":"E","k":"bb"},
{"s":0.172,"v":-1.02,"t":"r00","k":"bs"}
]
},
"layer":[
{"data":{"name":"itg"},"mark":{"type":"line","color":"#ff0000","strokeWidth":0.8,"clip":true},
"encoding":{
"x":{"field":"s","type":"quantitative","scale":{"domain":[0.0532,0.9462],"nice":false,"zero":false},
"axis":{"values":[0.2,0.4,0.6,0.8],"format":".1f","title":"s","ticks":false,"domain":false,"labelFont":"DejaVu Sans","labelFontSize":19,"labelColor":"black","labelPadding":5,"grid":true,"gridColor":"black","gridDash":[1,6],"gridWidth":1,"titleFont":"DejaVu Sans","titleFontSize":18,"titleFontWeight":"normal","titleColor":"black","titleX":193,"titleY":40,"titleBaseline":"alphabetic"}},
"y":{"field":"v","type":"quantitative","scale":{"domain":[-2,3.5],"nice":false,"zero":false},
"axis":{"values":[-1,0,1,2,3],"labels":false,"ticks":false,"domain":false,"grid":true,"gridColor":"black","gridDash":[1,8],"gridWidth":1,"title":"A.U.","titleFont":"DejaVu Sans","titleFontSize":20,"titleFontWeight":"normal","titleColor":"black","titleX":-27,"titleY":189,"titleAngle":270,"titleAlign":"center","titleBaseline":"middle"}},
"detail":{"field":"g"}}},
{"data":{"name":"er"},"mark":{"type":"line","color":"#0000ff","strokeWidth":3,"clip":true},"encoding":{"x":{"field":"s","type":"quantitative"},"y":{"field":"v","type":"quantitative"},"detail":{"field":"g"}}},
{"data":{"name":"tb"},"mark":{"type":"line","color":"#0000ff","strokeWidth":5.5,"clip":true},"encoding":{"x":{"field":"s","type":"quantitative"},"y":{"field":"v","type":"quantitative"}}},
{"data":{"name":"tr"},"mark":{"type":"line","color":"#ff0000","strokeWidth":5.5,"clip":true},"encoding":{"x":{"field":"s","type":"quantitative"},"y":{"field":"v","type":"quantitative"}}},
{"data":{"name":"lab"},"transform":[{"filter":"datum.k == 'rb'"}],"mark":{"type":"text","color":"#ff0000","font":"DejaVu Sans","fontSize":20,"align":"left","baseline":"alphabetic"},"encoding":{"x":{"field":"s","type":"quantitative"},"y":{"field":"v","type":"quantitative"},"text":{"field":"t"}}},
{"data":{"name":"lab"},"transform":[{"filter":"datum.k == 'rs'"}],"mark":{"type":"text","color":"#ff0000","font":"DejaVu Sans","fontSize":14,"align":"left","baseline":"alphabetic"},"encoding":{"x":{"field":"s","type":"quantitative"},"y":{"field":"v","type":"quantitative"},"text":{"field":"t"}}},
{"data":{"name":"lab"},"transform":[{"filter":"datum.k == 'bb'"}],"mark":{"type":"text","color":"#0000ff","font":"DejaVu Sans","fontSize":20,"align":"left","baseline":"alphabetic"},"encoding":{"x":{"field":"s","type":"quantitative"},"y":{"field":"v","type":"quantitative"},"text":{"field":"t"}}},
{"data":{"name":"lab"},"transform":[{"filter":"datum.k == 'bs'"}],"mark":{"type":"text","color":"#0000ff","font":"DejaVu Sans","fontSize":14,"align":"left","baseline":"alphabetic"},"encoding":{"x":{"field":"s","type":"quantitative"},"y":{"field":"v","type":"quantitative"},"text":{"field":"t"}}}
]
}
